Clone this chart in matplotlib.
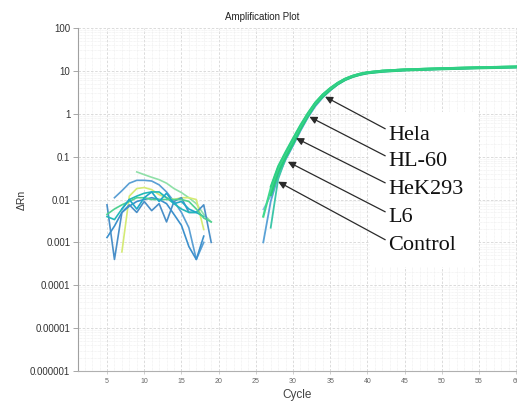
import numpy as np
import matplotlib
matplotlib.use('Agg')
import matplotlib.pyplot as plt
from matplotlib.patches import Rectangle
from matplotlib.ticker import MultipleLocator, LogLocator, NullFormatter

plt.rcParams['font.family'] = ['Liberation Sans', 'DejaVu Sans']

nan = np.nan

# --- data ----------------------------------------------------------------
# background (no amplification) traces, cycles 5..19
noise_cycles = np.arange(5, 20)
noise_a = [nan, nan, nan, nan, 0.044, 0.038, 0.033, 0.029, 0.024, 0.018, 0.0145, 0.011, 0.008, 0.0045, 0.003]
noise_b = [nan, 0.011, 0.016, 0.024, 0.028, 0.028, 0.027, 0.022, 0.015, 0.009, 0.005, 0.0022, 0.0004, 0.001, nan]
noise_c = [nan, nan, 0.0006, 0.012, 0.018, 0.019, 0.017, 0.013, 0.011, 0.010, 0.011, 0.011, 0.010, 0.002, nan]
noise_d = [0.0075, 0.0004, 0.005, 0.0075, 0.005, 0.009, 0.0055, 0.008, 0.003, 0.009, 0.011, 0.005, 0.005, 0.0075, 0.001]
noise_e = [0.004, 0.0034, 0.006, 0.010, 0.012, 0.014, 0.015, 0.015, 0.011, 0.008, 0.006, 0.005, 0.005, 0.004, nan]
noise_f = [0.0013, 0.0024, 0.005, 0.007, 0.009, 0.010, 0.011, 0.010, 0.008, 0.0045, 0.0025, 0.0008, 0.0004, 0.0014, nan]
noise_g = [0.0045, 0.006, 0.0075, 0.009, 0.011, 0.011, 0.010, 0.010, 0.010, 0.010, 0.010, 0.009, 0.006, 0.0037, 0.003]
noise_h = [nan, nan, 0.006, 0.010, 0.006, 0.011, 0.015, 0.009, 0.014, 0.008, 0.009, 0.006, 0.005, nan, nan]

# amplification curves
amp_cycles = [26, 27, 28, 29, 30, 31, 32, 33, 34, 35, 36, 37, 38, 39, 40, 42, 45, 50, 55, 60]
amp_1 = [nan, 0.013, 0.045, 0.10, 0.21, 0.46, 0.92, 1.7, 2.6, 3.7, 5.0, 6.3, 7.4, 8.3, 9.0, 9.8, 10.5, 11.2, 11.8, 12.3]
amp_2 = [0.004, 0.018, 0.055, 0.12, 0.25, 0.52, 1.0, 1.8, 2.8, 3.9, 5.2, 6.5, 7.6, 8.5, 9.2, 10.0, 10.7, 11.4, 12.0, 12.5]
amp_3 = [0.001, 0.009, 0.035, 0.085, 0.18, 0.40, 0.82, 1.5, 2.4, 3.5, 4.8, 6.1, 7.2, 8.1, 8.8, 9.6, 10.3, 11.0, 11.6, 12.1]
amp_4 = [0.0059, 0.012, 0.042, 0.095, 0.20, 0.44, 0.90, 1.65, 2.55, 3.65, 4.9, 6.2, 7.3, 8.2, 8.9, 9.7, 10.4, 11.1, 11.7, 12.2]
amp_5 = [nan, 0.0022, 0.030, 0.09, 0.19, 0.43, 0.88, 1.6, 2.5, 3.6, 4.9, 6.2, 7.3, 8.2, 8.9, 9.7, 10.4, 11.1, 11.7, 12.2]
amp_6 = [nan, 0.020, 0.060, 0.13, 0.27, 0.55, 1.05, 1.85, 2.85, 4.0, 5.3, 6.6, 7.7, 8.6, 9.3, 10.1, 10.8, 11.5, 12.1, 12.6]

# labelled samples and the curve points their arrows point at
sample_labels = ['Hela', 'HL-60', 'HeK293', 'L6', 'Control']
arrow_cycle = [34.3, 32.2, 30.4, 29.3, 28.0]
arrow_value = [2.5, 0.85, 0.27, 0.076, 0.026]

y_ticks = [1e-6, 1e-5, 1e-4, 1e-3, 1e-2, 1e-1, 1, 10, 100]
y_ticklabels = ['0.000001', '0.00001', '0.0001', '0.001', '0.01', '0.1', '1', '10', '100']

# --- figure ---------------------------------------------------------------
W, H = 517, 401
fig = plt.figure(figsize=(W / 100, H / 100), dpi=100)
ax = fig.add_axes([78 / W, 30 / H, (W - 78) / W, 343 / H])

ax.set_yscale('log')
ax.set_ylim(1e-6, 100)
ax.set_xlim(1.1, 60.1)

# background traces
noise = [(noise_a, '#8fe0a8'), (noise_b, '#5a9fd4'), (noise_c, '#d4ea74'), (noise_d, '#4a8fc8'),
         (noise_e, '#22b8b8'), (noise_f, '#3c90cc'), (noise_g, '#4fd191'), (noise_h, '#20a8c8')]
for vals, col in noise:
    ax.plot(noise_cycles, vals, color=col, lw=1.2, zorder=2)

# amplification curves: blue ones under, green ones on top
for vals, col, lw in [(amp_3, '#5aa2d6', 1.3), (amp_4, '#86b8e0', 1.1), (amp_5, '#3cc6a8', 1.3),
                      (amp_1, '#27c97a', 2.2), (amp_2, '#3fd88e', 1.6), (amp_6, '#2fcf84', 1.4)]:
    ax.plot(amp_cycles, vals, color=col, lw=lw, zorder=3)

# white box behind the pasted labels
ax.add_patch(Rectangle((370 / W, 1 - 267 / H), 108 / W, 155 / H, transform=fig.transFigure,
                       facecolor='white', edgecolor='none', zorder=1.8))

label_px_y = [135, 162, 189, 218, 246]
for lab, cx, cy, py in zip(sample_labels, arrow_cycle, arrow_value, label_px_y):
    ax.annotate(lab, xy=(cx, cy), xycoords='data', xytext=(388, H - py), textcoords='figure pixels',
                ha='left', va='center', fontsize=16, family='Liberation Serif', color='#111111',
                arrowprops=dict(arrowstyle='-|>', color='#2a2a2a', lw=0.9, shrinkA=0, shrinkB=0,
                                relpos=(0, 0.75), mutation_scale=11),
                zorder=5)

# grid and ticks
ax.xaxis.set_major_locator(MultipleLocator(5))
ax.xaxis.set_minor_locator(MultipleLocator(1))
ax.set_yticks(y_ticks)
ax.set_yticklabels(y_ticklabels)
ax.yaxis.set_minor_locator(LogLocator(base=10, subs=np.arange(2, 10), numticks=30))
ax.yaxis.set_minor_formatter(NullFormatter())
ax.grid(which='major', color='#d6d6d6', lw=0.6, ls=(0, (3, 2)))
ax.grid(which='minor', color='#ebebeb', lw=0.5, ls=(0, (1, 1)))

ax.tick_params(axis='y', which='major', labelsize=7, labelcolor='#333333', length=3.5, width=0.6,
               color='#999999', pad=2)
ax.tick_params(axis='x', which='major', labelsize=5, labelcolor='#666666', length=2, width=0.5,
               color='#bbbbbb', pad=3)
ax.tick_params(which='minor', length=0)

for s in ['top', 'right']:
    ax.spines[s].set_visible(False)
ax.spines['left'].set_color('#a0a0a0')
ax.spines['bottom'].set_color('#b0b0b0')

fig.text(262 / W, 1 - 17 / H, 'Amplification Plot', ha='center', va='center', fontsize=7, color='#222222')
fig.text(22 / W, 1 - 200 / H, 'ΔRn', ha='center', va='center', rotation=90, fontsize=7.5, color='#333333')
fig.text(297 / W, 1 - 395 / H, 'Cycle', ha='center', va='center', fontsize=8.5, color='#444444')

fig.savefig('out.png', dpi=100)
